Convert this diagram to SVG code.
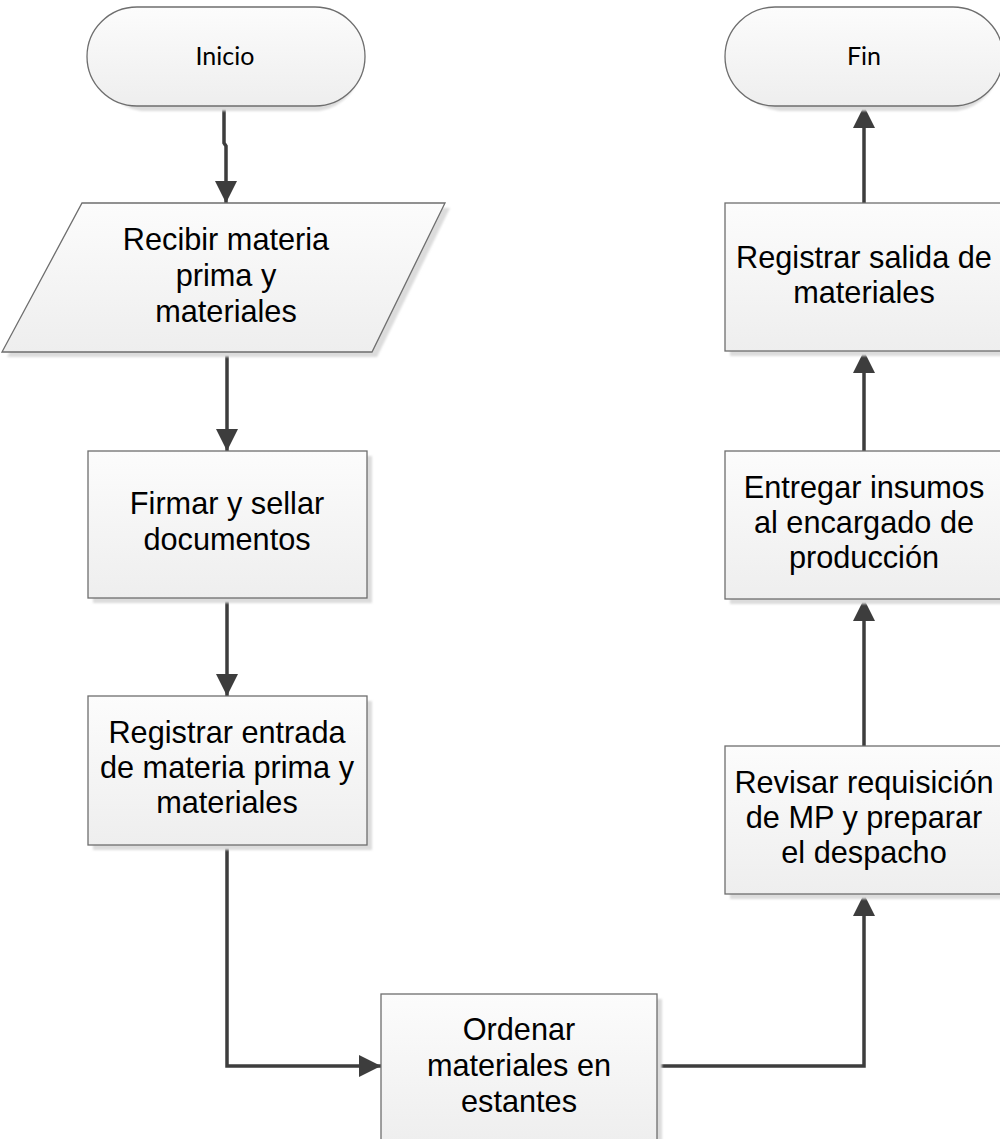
<svg xmlns="http://www.w3.org/2000/svg" width="1000" height="1139" viewBox="0 0 1000 1139">
  <defs>
    <linearGradient id="boxFill" x1="0" y1="0" x2="0" y2="1">
      <stop offset="0" stop-color="#fcfcfc"/>
      <stop offset="1" stop-color="#eeeeee"/>
    </linearGradient>
    <filter id="soft" x="-5%" y="-5%" width="110%" height="110%">
      <feGaussianBlur stdDeviation="1.2"/>
    </filter>
    <marker id="arrow" markerUnits="userSpaceOnUse" markerWidth="24" markerHeight="24" viewBox="0 0 24 24" refX="22" refY="12" orient="auto">
      <path d="M0,1 L22,12 L0,23 Z" fill="#3d3d3d"/>
    </marker>
  </defs>
  <style>
    .shape { fill: url(#boxFill); stroke: #6e6e6e; stroke-width: 1.3; }
    .shadow { fill: #dcdcdc; filter: url(#soft); }
    .label { font-family: "Liberation Sans", Arial, sans-serif; font-size: 30.7px; fill: #000; text-anchor: middle; }
    .term { font-family: Lato, "Open Sans", sans-serif; font-size: 25px; fill: #000; text-anchor: middle; }
    .conn { fill: none; stroke: #3d3d3d; stroke-width: 3.5; marker-end: url(#arrow); }
  </style>
  <rect width="1000" height="1139" fill="#ffffff"/>

  <!-- connectors -->
  <g id="connectors">
    <path class="conn" d="M224,106 V143 L226,146 V203"/>
    <path class="conn" d="M227,352 V451"/>
    <path class="conn" d="M227,598 V696"/>
    <path class="conn" d="M227,845 V1066 H381"/>
    <path class="conn" d="M657,1066 H864 V894"/>
    <path class="conn" d="M864,746 V599"/>
    <path class="conn" d="M864,451 V351"/>
    <path class="conn" d="M864,203 V106"/>
  </g>

  <!-- start terminator -->
  <g id="inicio">
    <path class="shadow" d="M141,12 H319 A50,50 0 0 1 319,111 H141 A50,50 0 0 1 141,12 Z"/>
    <path class="shape" d="M137,7 H315 A50,49.5 0 0 1 315,106 H137 A50,49.5 0 0 1 137,7 Z"/>
    <text class="term" x="225" y="65">Inicio</text>
  </g>

  <!-- end terminator -->
  <g id="fin">
    <path class="shadow" d="M779,12 H957 A50,50 0 0 1 957,111 H779 A50,50 0 0 1 779,12 Z"/>
    <path class="shape" d="M775,7 H953 A50,49.5 0 0 1 953,106 H775 A50,49.5 0 0 1 775,7 Z"/>
    <text class="term" x="864" y="65">Fin</text>
  </g>

  <!-- input: receive raw material -->
  <g id="recibir">
    <polygon class="shadow" points="87,208 450,208 377,357 7,357"/>
    <polygon class="shape" points="82,203 445,203 372,352 2,352"/>
    <text class="label" x="226" y="250">Recibir materia</text>
    <text class="label" x="226" y="286">prima y</text>
    <text class="label" x="226" y="322">materiales</text>
  </g>

  <g id="firmar">
    <rect class="shadow" x="93" y="456" width="279" height="147"/>
    <rect class="shape" x="88" y="451" width="279" height="147"/>
    <text class="label" x="227" y="514">Firmar y sellar</text>
    <text class="label" x="227" y="550">documentos</text>
  </g>

  <g id="registrar-entrada">
    <rect class="shadow" x="93" y="701" width="279" height="149"/>
    <rect class="shape" x="88" y="696" width="279" height="149"/>
    <text class="label" x="227" y="743">Registrar entrada</text>
    <text class="label" x="227" y="778">de materia prima y</text>
    <text class="label" x="227" y="813">materiales</text>
  </g>

  <g id="ordenar">
    <rect class="shadow" x="386" y="999" width="276" height="150"/>
    <rect class="shape" x="381" y="994" width="276" height="150"/>
    <text class="label" x="519" y="1040">Ordenar</text>
    <text class="label" x="519" y="1076">materiales en</text>
    <text class="label" x="519" y="1112">estantes</text>
  </g>

  <g id="revisar">
    <rect class="shadow" x="730" y="751" width="278" height="148"/>
    <rect class="shape" x="725" y="746" width="278" height="148"/>
    <text class="label" x="864" y="793">Revisar requisición</text>
    <text class="label" x="864" y="828">de MP y preparar</text>
    <text class="label" x="864" y="863">el despacho</text>
  </g>

  <g id="entregar">
    <rect class="shadow" x="730" y="456" width="278" height="148"/>
    <rect class="shape" x="725" y="451" width="278" height="148"/>
    <text class="label" x="864" y="498">Entregar insumos</text>
    <text class="label" x="864" y="533">al encargado de</text>
    <text class="label" x="864" y="568">producción</text>
  </g>

  <g id="registrar-salida">
    <rect class="shadow" x="730" y="208" width="278" height="148"/>
    <rect class="shape" x="725" y="203" width="278" height="148"/>
    <text class="label" x="864" y="268">Registrar salida de</text>
    <text class="label" x="864" y="303">materiales</text>
  </g>
</svg>
